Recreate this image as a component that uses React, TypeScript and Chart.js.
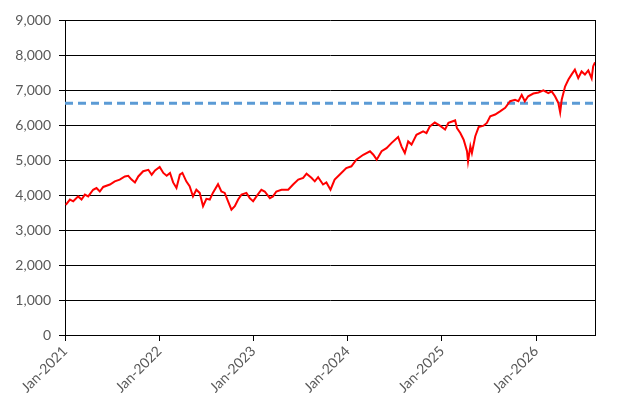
import React, { useEffect, useRef } from "react";
import { Chart, registerables } from "chart.js";

Chart.register(...registerables);

// readings, roughly every two weeks
const dates = [
  "2021-01-04", "2021-01-20", "2021-02-02", "2021-02-21", "2021-03-06", "2021-03-19",
  "2021-04-01", "2021-04-20", "2021-05-03", "2021-05-16", "2021-05-29", "2021-06-24",
  "2021-07-13", "2021-08-01", "2021-08-21", "2021-09-03", "2021-09-16", "2021-09-29",
  "2021-10-12", "2021-10-31", "2021-11-20", "2021-12-03", "2021-12-16", "2022-01-03",
  "2022-01-17", "2022-01-30", "2022-02-12", "2022-02-24", "2022-03-09", "2022-03-22",
  "2022-04-01", "2022-04-16", "2022-04-29", "2022-05-12", "2022-05-25", "2022-06-07",
  "2022-06-20", "2022-07-03", "2022-07-16", "2022-07-28", "2022-08-17", "2022-08-30",
  "2022-09-12", "2022-09-25", "2022-10-08", "2022-10-21", "2022-11-03", "2022-11-16",
  "2022-12-05", "2022-12-18", "2022-12-31", "2023-01-13", "2023-02-01", "2023-02-14",
  "2023-03-06", "2023-03-18", "2023-03-31", "2023-04-20", "2023-05-16", "2023-06-04",
  "2023-06-24", "2023-07-13", "2023-07-26", "2023-08-14", "2023-08-27", "2023-09-09",
  "2023-09-28", "2023-10-11", "2023-10-27", "2023-11-12", "2023-12-01", "2023-12-27",
  "2024-01-16", "2024-02-04", "2024-03-02", "2024-03-28", "2024-04-10", "2024-04-23",
  "2024-05-12", "2024-05-31", "2024-06-20", "2024-07-15", "2024-07-28", "2024-08-10",
  "2024-08-23", "2024-09-05", "2024-09-24", "2024-10-20", "2024-11-02", "2024-11-15",
  "2024-12-04", "2024-12-24", "2025-01-13", "2025-01-26", "2025-02-21", "2025-02-28",
  "2025-03-13", "2025-03-26", "2025-04-08", "2025-04-12", "2025-04-21", "2025-04-27",
  "2025-05-10", "2025-05-23", "2025-06-11", "2025-06-24", "2025-07-07", "2025-07-26",
  "2025-08-14", "2025-09-03", "2025-09-22", "2025-10-11", "2025-10-24", "2025-11-06",
  "2025-11-18", "2025-12-01", "2025-12-21", "2026-01-10", "2026-01-29", "2026-02-17",
  "2026-03-02", "2026-03-15", "2026-03-28", "2026-04-04", "2026-04-10", "2026-04-23",
  "2026-05-06", "2026-05-18", "2026-05-31", "2026-06-13", "2026-06-26", "2026-07-09",
  "2026-07-22", "2026-08-04", "2026-08-10", "2026-08-17",
];

const values = [
  3720, 3870, 3820, 3960, 3870, 4010,
  3960, 4150, 4200, 4100, 4230, 4300,
  4390, 4440, 4530, 4550, 4440, 4360,
  4530, 4680, 4720, 4580, 4700, 4800,
  4630, 4550, 4630, 4360, 4200, 4580,
  4630, 4390, 4250, 3960, 4150, 4060,
  3680, 3890, 3870, 4060, 4310, 4100,
  4060, 3820, 3580, 3680, 3870, 4010,
  4060, 3910, 3820, 3960, 4150, 4100,
  3910, 3960, 4100, 4150, 4150, 4300,
  4440, 4490, 4610, 4490, 4390, 4510,
  4300, 4360, 4150, 4440, 4580, 4770,
  4820, 5010, 5150, 5250, 5150, 5010,
  5250, 5340, 5490, 5660, 5390, 5200,
  5530, 5440, 5720, 5820, 5770, 5960,
  6070, 5980, 5870, 6060, 6130, 5910,
  5770, 5580, 5250, 4960, 5390, 5200,
  5680, 5940, 5980, 6060, 6250, 6300,
  6390, 6490, 6680, 6720, 6680, 6860,
  6680, 6820, 6900, 6930, 6990, 6910,
  6960, 6820, 6630, 6360, 6720, 7100,
  7300, 7440, 7580, 7340, 7530, 7440,
  7560, 7330, 7680, 7790,
];

const refLevel = 6620;
const tickYears = [2021, 2022, 2023, 2024, 2025, 2026];
const axisStart = "2021-01-01";
const axisEnd = "2026-08-17";

const toTime = (s: string) => {
  const [y, m, d] = s.split("-").map(Number);
  return Date.UTC(y, m - 1, d);
};

const labelFont = { family: "Lato, 'Open Sans', sans-serif", size: 14 };
const labelColor = "#595959";

// right-hand frame line of the plot area
const rightBorder = {
  id: "rightBorder",
  afterDatasetsDraw(chart: any) {
    const { ctx, chartArea } = chart;
    ctx.save();
    ctx.strokeStyle = "#000";
    ctx.lineWidth = 1;
    ctx.beginPath();
    ctx.moveTo(Math.round(chartArea.right) + 0.5, chartArea.top);
    ctx.lineTo(Math.round(chartArea.right) + 0.5, chartArea.bottom);
    ctx.stroke();
    ctx.restore();
  },
};

const App: React.FC = () => {
  const chartRef = useRef<HTMLCanvasElement | null>(null);

  useEffect(() => {
    if (!chartRef.current) return;
    const ctx = chartRef.current.getContext("2d");
    if (!ctx) return;

    const xMin = toTime(axisStart);
    const xMax = toTime(axisEnd);

    const chart = new Chart(ctx, {
      type: "line",
      data: {
        datasets: [
          {
            label: "Index",
            data: dates.map((d, i) => ({ x: toTime(d), y: values[i] })),
            borderColor: "#FF0000",
            borderWidth: 2,
            pointRadius: 0,
            tension: 0,
            order: 1,
          },
          {
            label: "Level",
            data: [
              { x: xMin, y: refLevel },
              { x: xMax, y: refLevel },
            ],
            borderColor: "#5B9BD5",
            borderWidth: 3,
            borderDash: [8, 5],
            pointRadius: 0,
            order: 2,
          },
        ],
      },
      options: {
        animation: false,
        responsive: true,
        maintainAspectRatio: false,
        layout: { padding: { top: 20, right: 34, left: 0, bottom: 0 } },
        plugins: {
          legend: { display: false },
          tooltip: { enabled: false },
        },
        scales: {
          x: {
            type: "linear",
            min: xMin,
            max: xMax,
            afterBuildTicks: (scale: any) => {
              scale.ticks = tickYears.map((y) => ({ value: Date.UTC(y, 0, 1) }));
            },
            afterFit: (scale: any) => {
              scale.height = 79;
            },
            ticks: {
              callback: (v: any) => `Jan-${new Date(v).getUTCFullYear()}`,
              color: labelColor,
              font: labelFont,
              minRotation: 45,
              maxRotation: 45,
              padding: 2,
              autoSkip: false,
            },
            grid: {
              drawOnChartArea: false,
              drawTicks: true,
              tickLength: 6,
              color: "#000",
            },
            border: { display: true, color: "#000", width: 1 },
          },
          y: {
            min: 0,
            max: 9000,
            afterFit: (scale: any) => {
              scale.width = 65;
            },
            ticks: {
              stepSize: 1000,
              color: labelColor,
              font: labelFont,
              padding: 8,
              callback: (v: any) => Number(v).toLocaleString("en-US"),
            },
            grid: {
              color: "#000",
              lineWidth: 1,
              tickLength: 6,
            },
            border: { display: true, color: "#000", width: 1 },
          },
        },
      },
      plugins: [rightBorder],
    });

    return () => chart.destroy();
  }, []);

  return (
    <div style={{ position: "fixed", left: 0, top: 0, width: 629, height: 414, background: "#fff" }}>
      <canvas ref={chartRef}></canvas>
    </div>
  );
};

export default App;
